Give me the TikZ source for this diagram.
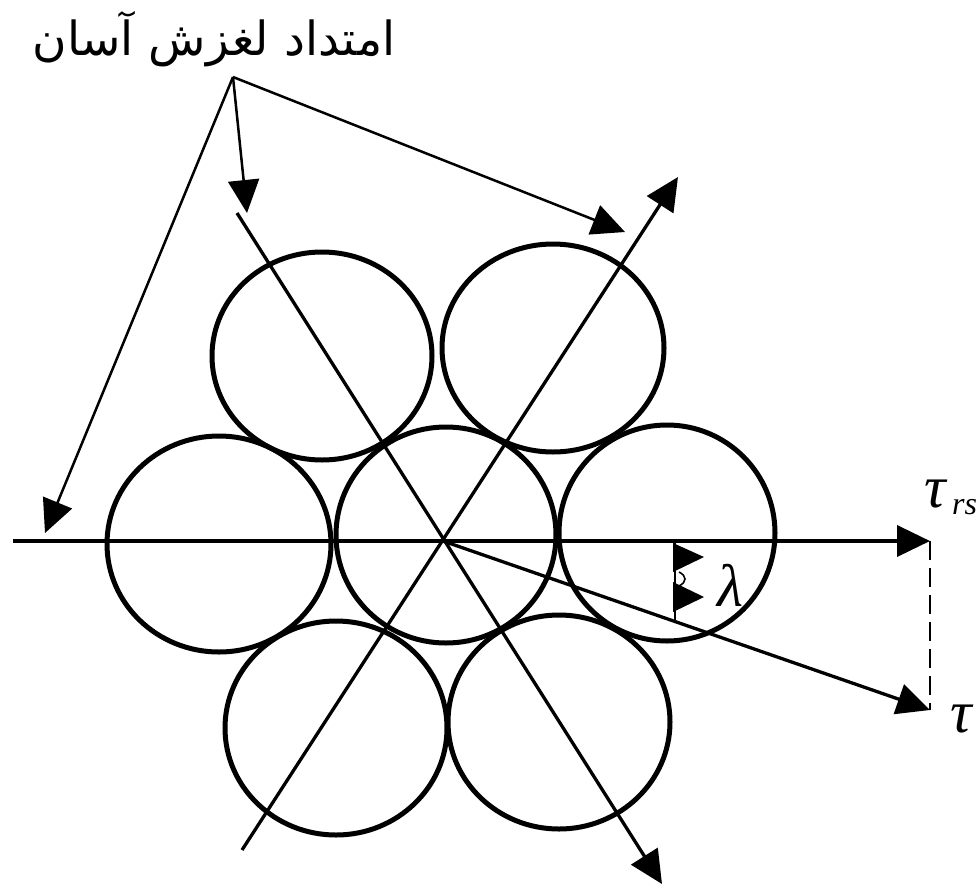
\documentclass[tikz,border=0pt]{standalone}
\usepackage{fontspec}
\usetikzlibrary{arrows.meta}
\TeXXeTstate=1
\newfontfamily\arabicfont[Script=Arabic]{DejaVu Sans}
\newfontfamily\labelfont{Liberation Serif}
\tikzset{
  bigtip/.tip={Triangle[length=33pt,width=31pt]},
  ring/.style={line width=5pt},
  axisline/.style={line width=3.8pt},
  slipline/.style={line width=3.3pt},
  leader/.style={line width=2.5pt},
  glabel/.style={inner sep=0pt, font=\fontsize{60}{68}\selectfont\labelfont\itshape},
}
\begin{document}
\begin{tikzpicture}[x=1pt,y=-1pt]
\useasboundingbox (0,0) rectangle (980,887);
% centres of the seven wires
\coordinate (O)  at (443,541);
\coordinate (cC) at (446,535);
\coordinate (cL) at (219,544);
\coordinate (cR) at (667,533);
\coordinate (cTL) at (322,356);
\coordinate (cTR) at (553,348);
\coordinate (cBL) at (336,728);
\coordinate (cBR) at (559,722);
\draw[ring] (cC)  ellipse [x radius=110pt, y radius=108pt];
\draw[ring] (cL)  ellipse [x radius=112pt, y radius=108pt];
\draw[ring] (cR)  ellipse [x radius=108pt, y radius=108pt];
\draw[ring] (cTL) ellipse [x radius=110pt, y radius=104pt];
\draw[ring] (cTR) ellipse [x radius=111pt, y radius=104pt];
\draw[ring] (cBL) ellipse [x radius=111pt, y radius=107pt];
\draw[ring] (cBR) ellipse [x radius=111pt, y radius=107pt];
% axes and slip directions
\coordinate (hL)  at (13,541);
\coordinate (trs) at (930,541);
\coordinate (tau) at (930,710);
\coordinate (dA)  at (237,213);
\coordinate (dB)  at (662,884);
\coordinate (aA)  at (242,850);
\coordinate (aB)  at (678,177);
\draw[axisline,-bigtip] (hL) -- (trs);
\draw[slipline,-bigtip] (dA) -- (dB);
\draw[slipline,-bigtip] (aA) -- (aB);
\draw[slipline,-bigtip] (O) -- (tau);
\draw[line width=2.6pt, dash pattern=on 19pt off 8pt] (trs) -- (tau);
% lambda marker
\coordinate (lT) at (675,541);
\coordinate (lB) at (675,620);
\draw[line width=2.6pt] (lT) -- (lB);
\fill (673,543) -- (704,557) -- (673,572) -- cycle;
\fill (673,582) -- (704,597) -- (673,612) -- cycle;
\draw[line width=1.6pt] (679,572) .. controls (687,576) and (687,582) .. (679,586);
\node[glabel] (lam) at (730,585) {λ};
\node[glabel, anchor=west] (trsl) at (924,494) {τ};
\node[inner sep=0pt, anchor=west, font=\fontsize{32}{36}\selectfont\labelfont\itshape] (rsl) at (952,507) {rs};
\node[glabel] (taul) at (961,719) {τ};
% annotation
\node[inner sep=0pt, font=\fontsize{47}{56}\selectfont\arabicfont] (title) at (214,39) {\beginR امتداد لغزش آسان\endR};
\coordinate (apex) at (233,77);
\coordinate (p1) at (45,533);
\coordinate (p2) at (247,213);
\coordinate (p3) at (625,232);
\draw[leader,-bigtip] (apex) -- (p1);
\draw[leader,-bigtip] (apex) -- (p2);
\draw[leader,-bigtip] (apex) -- (p3);
\end{tikzpicture}
\end{document}
